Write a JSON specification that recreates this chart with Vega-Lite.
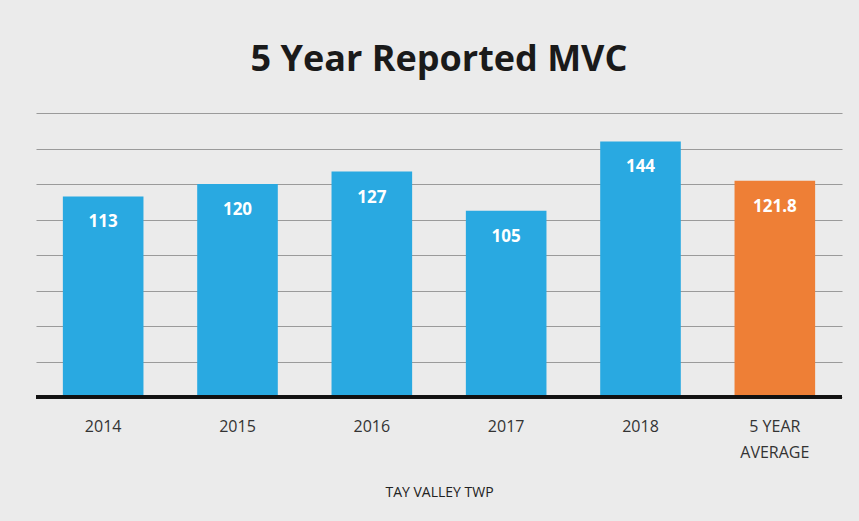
{
  "$schema": "https://vega.github.io/schema/vega-lite/v6.json",
  "width": 806,
  "height": 284,
  "autosize": {"type": "none"},
  "padding": {"left": 36, "top": 113, "right": 17, "bottom": 124},
  "background": "#ebebeb",
  "title": {
    "text": "5 Year Reported MVC",
    "font": "Open Sans",
    "fontSize": 36,
    "fontWeight": "bold",
    "color": "#1a1a1a",
    "anchor": "middle",
    "offset": 34
  },
  "data": {
    "values": [
      {"category": "2014", "value": 113, "label": "113", "kind": "year"},
      {"category": "2015", "value": 120, "label": "120", "kind": "year"},
      {"category": "2016", "value": 127, "label": "127", "kind": "year"},
      {"category": "2017", "value": 105, "label": "105", "kind": "year"},
      {"category": "2018", "value": 144, "label": "144", "kind": "year"},
      {"category": "5 YEAR AVERAGE", "value": 121.8, "label": "121.8", "kind": "average"}
    ]
  },
  "config": {
    "view": {"stroke": null},
    "font": "Open Sans"
  },
  "encoding": {
    "x": {
      "field": "category",
      "type": "nominal",
      "sort": null,
      "scale": {"paddingInner": 0.4, "paddingOuter": 0.2},
      "axis": {
        "title": "TAY VALLEY TWP",
        "titleFont": "Open Sans",
        "titleFontSize": 14,
        "titleFontWeight": "normal",
        "titleColor": "#222222",
        "titlePadding": 25,
        "labelAngle": 0,
        "labelFont": "Open Sans",
        "labelFontSize": 16,
        "labelColor": "#333333",
        "labelPadding": 21,
        "labelExpr": "datum.value == '5 YEAR AVERAGE' ? ['5 YEAR', 'AVERAGE'] : datum.label",
        "labelLineHeight": 26,
        "ticks": false,
        "domain": false
      }
    },
    "y": {
      "field": "value",
      "type": "quantitative",
      "scale": {"domain": [0, 160]},
      "axis": {
        "values": [0, 20, 40, 60, 80, 100, 120, 140, 160],
        "labels": false,
        "ticks": false,
        "domain": false,
        "title": null,
        "grid": true,
        "gridColor": "#9a9a9a",
        "gridWidth": 1.2
      }
    }
  },
  "layer": [
    {
      "mark": {"type": "bar"},
      "encoding": {
        "color": {
          "field": "kind",
          "type": "nominal",
          "scale": {"domain": ["year", "average"], "range": ["#29a9e1", "#ee7f36"]},
          "legend": null
        }
      }
    },
    {
      "mark": {"type": "text", "baseline": "middle", "dy": 26, "color": "white", "fontWeight": "bold", "fontSize": 17, "font": "Open Sans"},
      "encoding": {"text": {"field": "label", "type": "nominal"}}
    },
    {
      "mark": {"type": "rule", "color": "#111111", "strokeWidth": 3},
      "encoding": {"y": {"datum": 0}, "x": null}
    }
  ]
}
